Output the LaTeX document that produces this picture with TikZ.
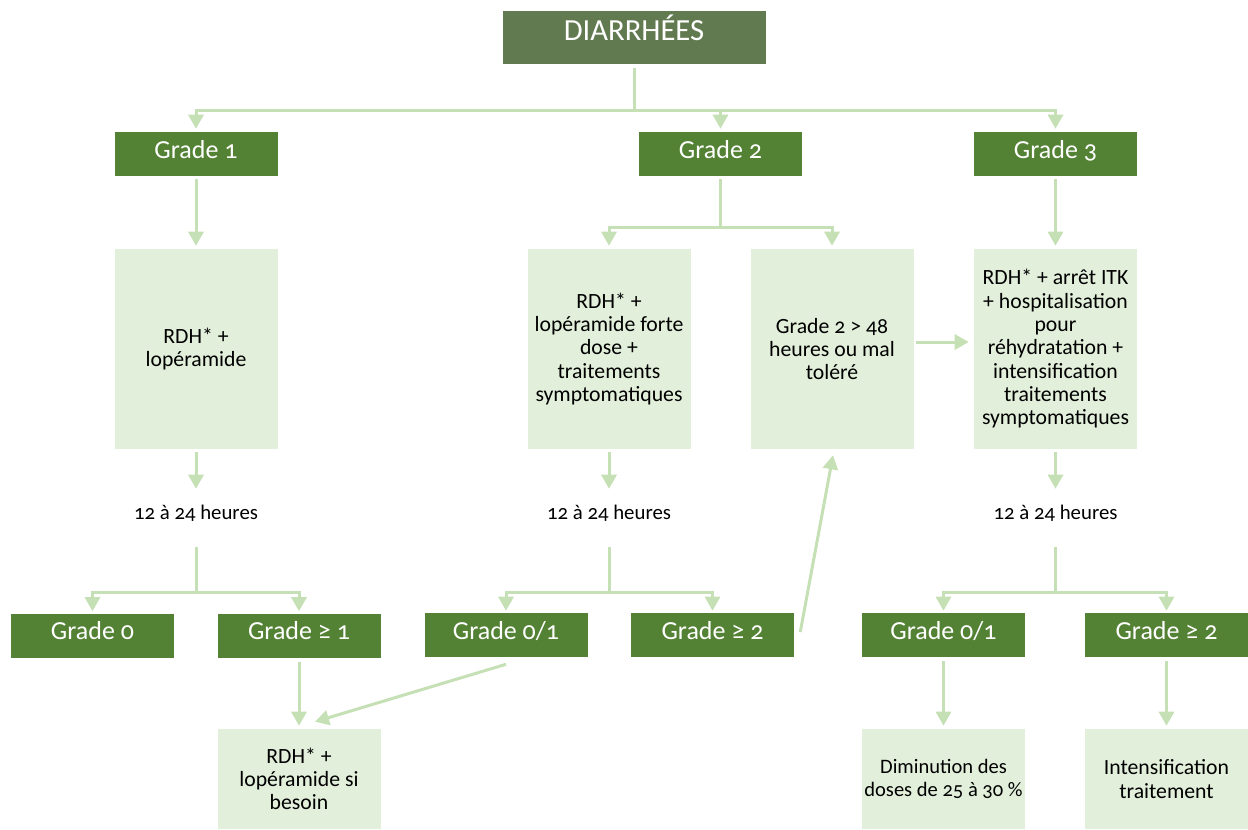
\documentclass[tikz,border=0pt]{standalone}
\usepackage{fontspec}
\setmainfont{Carlito}[Numbers=OldStyle]
\usetikzlibrary{arrows.meta}

\definecolor{topgreen}{RGB}{98,122,79}
\definecolor{gradegreen}{RGB}{84,130,53}
\definecolor{palegreen}{RGB}{226,239,218}
\definecolor{linkgreen}{RGB}{197,224,180}

\tikzset{
  topbox/.style={fill=topgreen,text=white,inner sep=0pt,minimum width=197.25pt,minimum height=39.75pt,font=\fontsize{23}{27}\selectfont,text height=13.5pt,text depth=9pt},
  gradebox/.style={fill=gradegreen,text=white,inner sep=0pt,minimum width=122.25pt,minimum height=33pt,font=\fontsize{19.5}{23}\selectfont,text height=12pt,text depth=6pt},
  lightbox/.style={fill=palegreen,inner sep=0pt,minimum width=122.25pt,minimum height=150pt,align=center,font=\fontsize{16.3}{17.5}\selectfont},
  endbox/.style={lightbox,minimum height=75pt},
  delaytext/.style={inner sep=0pt,minimum height=34.5pt,font=\fontsize{15.6}{18}\selectfont},
  link/.style={draw=linkgreen,line width=2.25pt},
  linkarrow/.style={link,-{Triangle[width=11.25pt,length=10.5pt]},shorten >=2.25pt}
}

\begin{document}
\begin{tikzpicture}[x=0.75pt,y=0.75pt,yscale=-1,xscale=1]
\useasboundingbox (0,0) rectangle (1248,829);

%Top box
\node[topbox] (diar) at (634,37.5) {DIARRHÉES};
%Grades
\node[gradebox] (g1) at (196,154) {Grade 1};
\node[gradebox] (g2) at (720.5,154) {Grade 2};
\node[gradebox] (g3) at (1055.5,154) {Grade 3};
%Treatments
\node[lightbox] (l1) at (196,349) {RDH* +\\lopéramide};
\node[lightbox] (l2a) at (609,349) {RDH* +\\lopéramide forte\\dose +\\traitements\\symptomatiques};
\node[lightbox] (l2b) at (832,349) {Grade 2 > 48\\heures ou mal\\toléré};
\node[lightbox] (l3) at (1055.5,349) {RDH* + arrêt ITK\\+ hospitalisation\\pour\\réhydratation +\\intensification\\traitements\\symptomatiques};
%Delays
\node[delaytext] (d1) at (196,513) {12 à 24 heures};
\node[delaytext] (d2) at (609,513) {12 à 24 heures};
\node[delaytext] (d3) at (1055.5,513) {12 à 24 heures};
%Outcomes
\node[gradebox] (g10) at (92.5,635.5) {Grade 0};
\node[gradebox] (g11) at (299,635.5) {Grade ≥ 1};
\node[gradebox] (g21) at (506,635) {Grade 0/1};
\node[gradebox] (g22) at (712.5,635) {Grade ≥ 2};
\node[gradebox] (g31) at (943.5,635) {Grade 0/1};
\node[gradebox] (g32) at (1166.5,635) {Grade ≥ 2};
%Final boxes
\node[endbox] (b1) at (299,779) {RDH* +\\lopéramide si\\besoin};
\node[endbox,font=\fontsize{15.4}{17.5}\selectfont] (b31) at (943.5,779) {Diminution des\\doses de 25 à 30 \%};
\node[endbox] (b32) at (1166.5,779) {Intensification\\traitement};

%Forks
\coordinate (f0) at (634,110);
\coordinate (f2) at (720.5,227);
\coordinate (f1l) at (196,592);
\coordinate (f2m) at (609,592);
\coordinate (f3r) at (1055.5,592);

%Connectors
\draw[link,shorten <=3pt] (diar) -- (f0);
\draw[linkarrow] (f0) -| (g1);
\draw[linkarrow] (f0) -| (g2);
\draw[linkarrow] (f0) -| (g3);
\draw[linkarrow,shorten <=2.25pt] (g1) -- (l1);
\draw[link,shorten <=2.25pt] (g2) -- (f2);
\draw[linkarrow] (f2) -| (l2a);
\draw[linkarrow] (f2) -| (l2b);
\draw[linkarrow,shorten <=2.25pt] (g3) -- (l3);
\draw[linkarrow,shorten <=1.5pt,shorten >=3.75pt] ([yshift=-5.25pt]l2b.east) -- ([yshift=-5.25pt]l3.west);

\draw[linkarrow,shorten <=2.25pt,shorten >=0.75pt] (l1) -- (d1);
\draw[linkarrow,shorten <=2.25pt,shorten >=0.75pt] (l2a) -- (d2);
\draw[linkarrow,shorten <=2.25pt,shorten >=0.75pt] (l3) -- (d3);
\draw[link,shorten <=8.25pt] (d1) -- (f1l);
\draw[link,shorten <=8.25pt] (d2) -- (f2m);
\draw[link,shorten <=8.25pt] (d3) -- (f3r);
\draw[linkarrow,shorten >=1.5pt] (f1l) -| (g10);
\draw[linkarrow,shorten >=1.5pt] (f1l) -| (g11);
\draw[linkarrow,shorten >=1.5pt] (f2m) -| (g21);
\draw[linkarrow,shorten >=1.5pt] (f2m) -| (g22);
\draw[linkarrow,shorten >=1.5pt] (f3r) -| (g31);
\draw[linkarrow,shorten >=1.5pt] (f3r) -| (g32);

\draw[linkarrow,shorten <=3pt] (g11) -- (b1);
\draw[linkarrow,shorten <=3pt] (g31) -- (b31);
\draw[linkarrow,shorten <=3pt] (g32) -- (b32);
\draw[linkarrow,shorten >=0pt] ([yshift=5.25pt]g21.south) -- ([xshift=12pt,yshift=-5.25pt]b1.north);
\draw[linkarrow,shorten >=0pt] ([xshift=4.5pt,yshift=-2.25pt]g22.east) -- ([xshift=0.75pt,yshift=4.5pt]l2b.south);

\end{tikzpicture}
\end{document}
